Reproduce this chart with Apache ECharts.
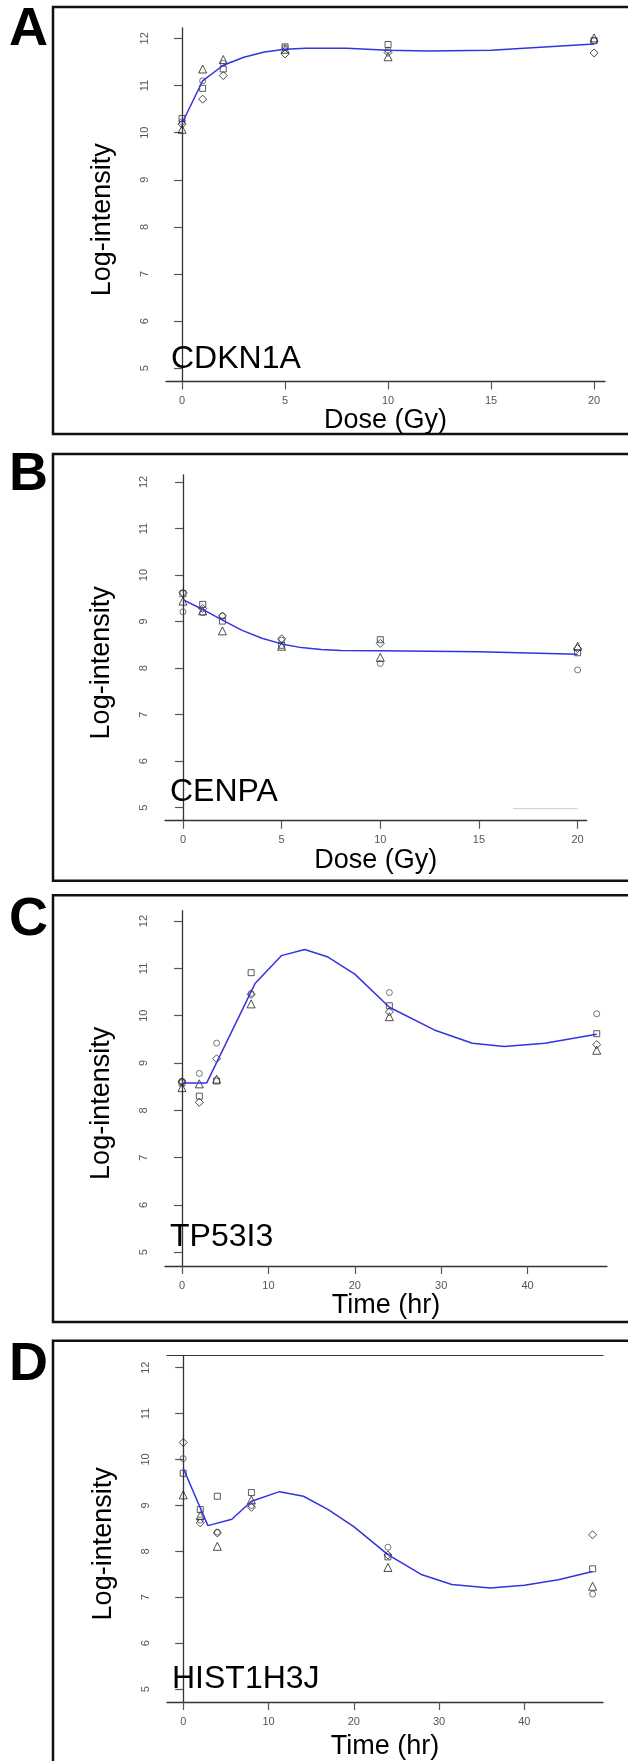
<!DOCTYPE html>
<html>
<head>
<meta charset="utf-8">
<script src="https://cdn.jsdelivr.net/npm/echarts@6/dist/echarts.min.js"></script>
<style>
html, body { margin: 0; padding: 0; background: #fff; }
#chart { width: 628px; height: 1761px; }
</style>
</head>
<body>
<div id="chart"></div>
<script>
// x values of the measurements
const doseGy = [0, 1, 2, 5, 10, 20];
const timeHr = [0, 2, 4, 8, 24, 48];

// tick labels
const yTicks = [5, 6, 7, 8, 9, 10, 11, 12];
const doseTicks = [0, 5, 10, 15, 20];
const timeTicks = [0, 10, 20, 30, 40];

// A - CDKN1A (replicates: circle, triangle, square, diamond)
const cdkn1aCircle = [10.23, 11.10, 11.47, 11.80, 11.75, 11.95];
const cdkn1aTriangle = [10.07, 11.35, 11.55, 11.77, 11.61, 12.01];
const cdkn1aSquare = [10.30, 10.94, 11.35, 11.82, 11.87, 11.95];
const cdkn1aDiamond = [10.18, 10.71, 11.21, 11.67, 11.70, 11.69];
const cdkn1aFitX = [0, 1, 2, 3, 4, 5, 6, 8, 10, 12, 15, 20];
const cdkn1aFitY = [10.20, 11.10, 11.43, 11.60, 11.71, 11.77, 11.79, 11.79, 11.75, 11.73, 11.75, 11.88];

// B - CENPA
const cenpaCircle = [9.21, 9.19, 9.12, 8.60, 8.10, 7.96];
const cenpaTriangle = [9.44, 9.23, 8.80, 8.47, 8.23, 8.47];
const cenpaSquare = [9.60, 9.37, 9.01, 8.49, 8.61, 8.33];
const cenpaDiamond = [9.62, 9.28, 9.12, 8.63, 8.53, 8.42];
const cenpaFitX = [0, 1, 2, 3, 4, 5, 6, 7, 8, 10, 15, 20];
const cenpaFitY = [9.47, 9.26, 9.03, 8.81, 8.64, 8.52, 8.44, 8.40, 8.38, 8.37, 8.35, 8.30];

// C - TP53I3
const tp53i3Circle = [8.62, 8.78, 9.42, 10.47, 10.49, 10.04];
const tp53i3Triangle = [8.48, 8.56, 8.66, 10.25, 9.98, 9.27];
const tp53i3Square = [8.58, 8.30, 8.62, 10.91, 10.21, 9.62];
const tp53i3Diamond = [8.60, 8.17, 9.09, 10.45, 10.08, 9.39];
const tp53i3FitX = [0, 2.86, 8.45, 11.5, 14.2, 16.9, 20, 24, 29.2, 33.6, 37.3, 42, 48];
const tp53i3FitY = [8.58, 8.58, 10.68, 11.27, 11.40, 11.24, 10.88, 10.18, 9.70, 9.42, 9.35, 9.42, 9.61];

// D - HIST1H3J
const hist1h3jCircle = [10.02, 8.68, 8.42, 9.00, 8.09, 7.07];
const hist1h3jTriangle = [9.23, 8.78, 8.11, 9.12, 7.65, 7.24];
const hist1h3jSquare = [9.70, 8.91, 9.20, 9.28, 7.88, 7.62];
const hist1h3jDiamond = [10.37, 8.62, 8.40, 8.96, 7.92, 8.36];
const hist1h3jFitX = [0, 2.9, 5.7, 8, 11.3, 14.1, 17, 20, 24, 28, 31.5, 36, 40, 44, 48];
const hist1h3jFitY = [9.81, 8.56, 8.70, 9.09, 9.30, 9.20, 8.91, 8.54, 7.93, 7.49, 7.28, 7.20, 7.26, 7.38, 7.56];

const font = "'Liberation Sans', Arial, sans-serif";
const shapes = [
  { symbol: "circle", size: 6, color: "#555" },
  { symbol: "triangle", size: 8, color: "#222" },
  { symbol: "rect", size: 6, color: "#333" },
  { symbol: "diamond", size: 8, color: "#222" }
];

const panels = [
  {
    letter: "A", gene: "CDKN1A", x: doseGy, xName: "Dose (Gy)", xTicks: doseTicks,
    reps: [cdkn1aCircle, cdkn1aTriangle, cdkn1aSquare, cdkn1aDiamond],
    fitX: cdkn1aFitX, fitY: cdkn1aFitY,
    grid: { left: 166, top: 28, width: 439, height: 353.5 },
    xMin: -0.78, xMax: 20.53, yMin: 4.72, yMax: 12.22,
    nameGap: 20, boxTop: 7, boxH: 427, letterTop: 3, geneTop: 343
  },
  {
    letter: "B", gene: "CENPA", x: doseGy, xName: "Dose (Gy)", xTicks: doseTicks,
    reps: [cenpaCircle, cenpaTriangle, cenpaSquare, cenpaDiamond],
    fitX: cenpaFitX, fitY: cenpaFitY,
    grid: { left: 165, top: 475, width: 421.7, height: 345.7 },
    xMin: -0.91, xMax: 20.46, yMin: 4.72, yMax: 12.15,
    nameGap: 20, boxTop: 454, boxH: 426.7, letterTop: 448, geneTop: 776
  },
  {
    letter: "C", gene: "TP53I3", x: timeHr, xName: "Time (hr)", xTicks: timeTicks,
    reps: [tp53i3Circle, tp53i3Triangle, tp53i3Square, tp53i3Diamond],
    fitX: tp53i3FitX, fitY: tp53i3FitY,
    grid: { left: 165, top: 910.7, width: 442, height: 355.3 },
    xMin: -1.97, xMax: 49.19, yMin: 4.71, yMax: 12.22,
    nameGap: 26, boxTop: 895.3, boxH: 426.7, letterTop: 893, geneTop: 1221
  },
  {
    letter: "D", gene: "HIST1H3J", x: timeHr, xName: "Time (hr)", xTicks: timeTicks,
    reps: [hist1h3jCircle, hist1h3jTriangle, hist1h3jSquare, hist1h3jDiamond],
    fitX: hist1h3jFitX, fitY: hist1h3jFitY,
    grid: { left: 167, top: 1355.7, width: 436, height: 347 },
    xMin: -1.9, xMax: 49.22, yMin: 4.72, yMax: 12.26,
    nameGap: 31, boxTop: 1340.7, boxH: 500, letterTop: 1338, geneTop: 1663
  }
];

const axisLine = { show: true, lineStyle: { color: "#333", width: 1.3 } };
const tickStyle = { color: "#555", width: 1.2 };

const grids = [], xAxes = [], yAxes = [], series = [], titles = [], graphics = [];

panels.forEach((p, i) => {
  grids.push(p.grid);
  xAxes.push({
    type: "value", gridIndex: i, min: p.xMin, max: p.xMax,
    axisLine: axisLine, splitLine: { show: false },
    axisTick: { show: true, length: 8, lineStyle: tickStyle, customValues: p.xTicks },
    axisLabel: { fontSize: 11, color: "#555", fontFamily: font, margin: 14, customValues: p.xTicks },
    name: p.xName, nameLocation: "middle", nameGap: p.nameGap,
    nameTextStyle: { fontSize: 27, color: "#000", fontFamily: font }
  });
  yAxes.push({
    type: "value", gridIndex: i, min: p.yMin, max: p.yMax,
    axisLine: axisLine, splitLine: { show: false },
    axisTick: { show: true, length: 8, lineStyle: tickStyle, customValues: yTicks },
    axisLabel: { fontSize: 11, color: "#555", fontFamily: font, rotate: 90, margin: 16, customValues: yTicks },
    name: "Log-intensity", nameLocation: "middle", nameRotate: 90, nameGap: 50,
    nameTextStyle: { fontSize: 27, color: "#000", fontFamily: font, padding: [0, 30, 0, 0] }
  });

  series.push({
    type: "line", xAxisIndex: i, yAxisIndex: i,
    data: p.fitX.map((x, k) => [x, p.fitY[k]]),
    showSymbol: false, smooth: false, silent: true,
    lineStyle: { color: "#3333e0", width: 1.5 }
  });
  p.reps.forEach((vals, r) => {
    const s = shapes[r];
    series.push({
      type: "scatter", xAxisIndex: i, yAxisIndex: i,
      data: p.x.map((x, k) => [x, vals[k]]),
      symbol: s.symbol, symbolSize: s.size, silent: true,
      itemStyle: { color: "rgba(0,0,0,0)", borderColor: s.color, borderWidth: 1 }
    });
  });

  titles.push({
    text: p.letter, left: 9, top: p.letterTop, padding: 0,
    textStyle: { fontSize: 54, fontWeight: "bold", color: "#000", fontFamily: font }
  });
  titles.push({
    text: p.gene, left: p.grid.left + 5, top: p.geneTop, padding: 0,
    textStyle: { fontSize: 32, fontWeight: "normal", color: "#000", fontFamily: font }
  });

  graphics.push({
    type: "rect", silent: true,
    shape: { x: 53, y: p.boxTop, width: 620, height: p.boxH },
    style: { fill: "none", stroke: "#111", lineWidth: 2.5 }
  });
});

// top border line of panel D
xAxes.push({
  type: "value", gridIndex: 3, position: "top", min: panels[3].xMin, max: panels[3].xMax,
  axisLine: { show: true, lineStyle: { color: "#333", width: 1.2 } },
  axisTick: { show: false }, axisLabel: { show: false }, splitLine: { show: false }
});

// faint stray line at the bottom right of panel B
graphics.push({
  type: "line", silent: true,
  shape: { x1: 513, y1: 808.7, x2: 578, y2: 808.7 },
  style: { stroke: "#ccc", lineWidth: 1 }
});

const chart = echarts.init(document.getElementById("chart"), null, { renderer: "canvas" });
chart.setOption({
  animation: false,
  backgroundColor: "#fff",
  title: titles,
  grid: grids,
  xAxis: xAxes,
  yAxis: yAxes,
  series: series,
  graphic: graphics
});
</script>
</body>
</html>
